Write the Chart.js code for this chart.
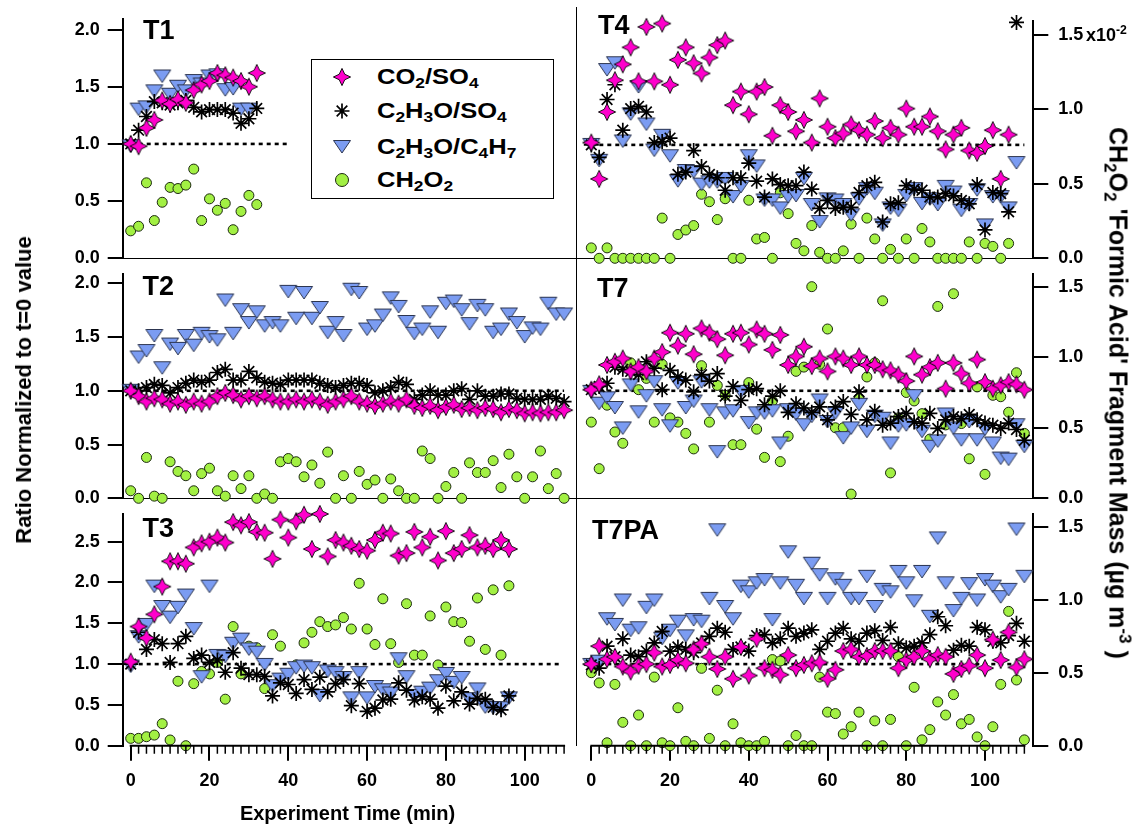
<!DOCTYPE html>
<html>
<head>
<meta charset="utf-8">
<title>Ratio normalized to t=0</title>
<script src="https://cdn.jsdelivr.net/npm/chart.js@4.4.1/dist/chart.umd.min.js"></script>
<style>
  html, body { margin: 0; padding: 0; background: #fff; }
  #page { position: relative; width: 1138px; height: 824px; overflow: hidden;
    font-family: 'Liberation Sans', Arial, Helvetica, sans-serif; font-weight: bold; color: #000; }
  #page canvas.panel { position: absolute; left: 0; top: 0; }
  .txt { position: absolute; white-space: nowrap; line-height: 1; }
  .txt sub, .txt sup, .entry sub { font-size: 0.68em; line-height: 0; }
  .txt sub, .entry sub { vertical-align: -0.28em; }
  .txt sup { vertical-align: 0.6em; }
  .panelName { font-size: 27px; }
  .rot { transform: translate(-50%, -50%) rotate(-90deg); }
  .rotR { transform: translate(-50%, -50%) rotate(90deg); }
  #divider { position: absolute; left: 576px; top: 7px; width: 1px; height: 739px; background: #000; }
  #legend { position: absolute; left: 311px; top: 59px; width: 241px; height: 138px; border: 1px solid #000; background: #fff; }
  #legend canvas { position: absolute; left: 18px; }
  #legend .entry { position: absolute; left: 65px; font-size: 22px; line-height: 1; white-space: nowrap;
    transform: scaleX(1.16); transform-origin: left center; }
</style>
</head>
<body>
<div id="page">
  <canvas id="t1" class="panel" width="1138" height="824"></canvas>
  <canvas id="t4" class="panel" width="1138" height="824"></canvas>
  <canvas id="t2" class="panel" width="1138" height="824"></canvas>
  <canvas id="t7" class="panel" width="1138" height="824"></canvas>
  <canvas id="t3" class="panel" width="1138" height="824"></canvas>
  <canvas id="t7pa" class="panel" width="1138" height="824"></canvas>
  <div id="divider"></div>

  <div class="txt panelName" style="left:143px; top:16.5px;">T1</div>
  <div class="txt panelName" style="left:598px; top:12px;">T4</div>
  <div class="txt panelName" style="left:142.5px; top:273px;">T2</div>
  <div class="txt panelName" style="left:597px; top:275px;">T7</div>
  <div class="txt panelName" style="left:142.5px; top:515px;">T3</div>
  <div class="txt panelName" style="left:592px; top:517px;">T7PA</div>

  <div class="txt" style="left:1086px; top:26px; font-size:18px;">x10<sup>-2</sup></div>

  <div class="txt rot" style="left:23.5px; top:390px; font-size:22px;">Ratio Normalized to t=0 value</div>
  <div class="txt rotR" style="left:1117.5px; top:393px; font-size:25px;">CH<sub>2</sub>O<sub>2</sub> 'Formic Acid' Fragment Mass (µg m<sup>-3</sup> )</div>
  <div class="txt" style="left:347.5px; top:813px; font-size:20px; transform: translate(-50%, -50%);">Experiment Time (min)</div>

  <div id="legend">
    <canvas id="lg0" width="24" height="24" style="top:5px;"></canvas>
    <canvas id="lg1" width="24" height="24" style="top:39px;"></canvas>
    <canvas id="lg2" width="24" height="24" style="top:75px;"></canvas>
    <canvas id="lg3" width="24" height="24" style="top:108px;"></canvas>
    <div class="entry" style="top:6px;">CO<sub>2</sub>/SO<sub>4</sub></div>
    <div class="entry" style="top:39.5px;">C<sub>2</sub>H<sub>3</sub>O/SO<sub>4</sub></div>
    <div class="entry" style="top:75.5px;">C<sub>2</sub>H<sub>3</sub>O/C<sub>4</sub>H<sub>7</sub></div>
    <div class="entry" style="top:108.5px;">CH<sub>2</sub>O<sub>2</sub></div>
  </div>
</div>

<script>
const FONT = "'Liberation Sans', Arial, Helvetica, sans-serif";

// sampling times (min), every run uses the same 2-minute grid
const minutes = [0, 2, 4, 6, 8, 10, 12, 14, 16, 18, 20, 22, 24, 26, 28, 30, 32, 34, 36, 38,
  40, 42, 44, 46, 48, 50, 52, 54, 56, 58, 60, 62, 64, 66, 68, 70, 72, 74, 76, 78,
  80, 82, 84, 86, 88, 90, 92, 94, 96, 98, 100, 102, 104, 106, 108, 110];

// T1 (left axis units for everything)
const t1Co2 = [1.00, 0.98, 1.14, 1.21, 1.38, 1.35, 1.39, 1.36, 1.47, 1.52, 1.55, 1.62, 1.60, 1.58, 1.55, 1.50, 1.62];
const t1Acet = [1.00, 1.12, 1.24, 1.37, 1.36, 1.34, 1.36, 1.38, 1.32, 1.28, 1.30, 1.30, 1.30, 1.27, 1.18, 1.22, 1.31];
const t1Tri = [0.98, 1.30, 1.32, 1.46, 1.59, 1.43, 1.50, 1.46, 1.55, 1.52, 1.59, 1.60, 1.47, 1.48, 1.30, 1.30];
const t1Formic = [0.24, 0.28, 0.66, 0.33, 0.49, 0.62, 0.61, 0.64, 0.78, 0.33, 0.52, 0.42, 0.48, 0.25, 0.41, 0.55, 0.47];

// T2
const t2Co2 = [1.00, 0.95, 0.90, 0.93, 0.92, 0.88, 0.90, 0.87, 0.90, 0.88, 0.90, 0.95, 0.98, 0.96, 0.92, 0.95, 0.93, 0.95, 0.92, 0.90,
  0.90, 0.92, 0.90, 0.92, 0.90, 0.87, 0.90, 0.92, 0.95, 0.90, 0.88, 0.86, 0.88, 0.90, 0.88, 0.92, 0.86, 0.84, 0.86, 0.82,
  0.85, 0.87, 0.83, 0.84, 0.82, 0.84, 0.83, 0.80, 0.83, 0.82, 0.79, 0.80, 0.79, 0.80, 0.80, 0.82];
const t2Acet = [1.00, 1.00, 1.03, 1.06, 1.05, 0.98, 1.03, 1.07, 1.10, 1.08, 1.10, 1.17, 1.20, 1.10, 1.10, 1.18, 1.12, 1.08, 1.07, 1.06,
  1.10, 1.10, 1.10, 1.10, 1.07, 1.05, 1.03, 1.05, 1.07, 1.07, 1.05, 0.98, 1.00, 1.03, 1.08, 1.06, 0.92, 0.96, 1.00, 0.96,
  0.96, 1.00, 1.02, 0.92, 1.00, 0.95, 0.95, 0.97, 0.97, 0.93, 0.92, 0.92, 0.92, 0.95, 0.93, 0.90];
const t2Tri = [1.00, 1.31, 1.37, 1.51, 1.21, 1.43, 1.39, 1.51, 1.42, 1.53, 1.50, 1.47, 1.84, 1.53, 1.75, 1.63, 1.73, 1.60, 1.63, 1.60,
  1.92, 1.67, 1.91, 1.67, 1.77, 1.54, 1.63, 1.51, 1.94, 1.91, 1.57, 1.60, 1.70, 1.86, 1.78, 1.64, 1.53, 1.57, 1.73, 1.54,
  1.81, 1.83, 1.75, 1.62, 1.79, 1.75, 1.54, 1.57, 1.71, 1.63, 1.50, 1.58, 1.57, 1.81, 1.71, 1.71];
const t2Formic = [0.07, 0.00, 0.38, 0.02, 0.00, 0.34, 0.25, 0.21, 0.07, 0.23, 0.28, 0.07, 0.02, 0.21, 0.09, 0.21, 0.00, 0.04, 0.00, 0.34,
  0.37, 0.34, 0.20, 0.31, 0.14, 0.43, 0.00, 0.21, 0.00, 0.25, 0.13, 0.17, 0.00, 0.18, 0.07, 0.00, 0.00, 0.44, 0.37, 0.00,
  0.11, 0.24, 0.00, 0.33, 0.24, 0.24, 0.35, 0.10, 0.41, 0.20, 0.00, 0.20, 0.44, 0.09, 0.23, 0.00];

// T3
const t3Co2 = [1.03, 1.46, 1.32, 1.61, 1.95, 2.26, 2.26, 2.23, 2.43, 2.48, 2.50, 2.55, 2.49, 2.74, 2.70, 2.74, 2.62, 2.61, 2.29, 2.77,
  2.55, 2.75, 2.83, 2.41, 2.84, 2.32, 2.52, 2.49, 2.45, 2.41, 2.39, 2.52, 2.61, 2.60, 2.33, 2.36, 2.62, 2.43, 2.56, 2.27,
  2.63, 2.36, 2.41, 2.58, 2.43, 2.45, 2.41, 2.52, 2.41];
const t3Acet = [1.00, 1.39, 1.18, 1.30, 1.25, 1.02, 1.25, 1.34, 1.07, 1.11, 1.02, 1.05, 0.90, 1.14, 0.95, 0.87, 0.87, 0.85, 0.61, 0.77,
  0.75, 0.64, 0.81, 0.69, 0.84, 0.66, 0.76, 0.81, 0.49, 0.76, 0.42, 0.46, 0.56, 0.57, 0.77, 0.68, 0.56, 0.60, 0.57, 0.46,
  0.73, 0.55, 0.66, 0.51, 0.58, 0.57, 0.47, 0.44, 0.61];
const t3Tri = [0.97, 1.33, 1.48, 1.95, 1.70, 1.57, 1.69, 1.84, 1.43, 0.84, 1.95, 1.10, 1.09, 1.25, 1.30, 1.18, 1.14, 0.99, 0.73, 0.81,
  0.87, 0.95, 0.97, 0.95, 0.61, 0.91, 0.89, 0.83, 0.58, 0.89, 0.58, 0.72, 0.68, 0.64, 1.06, 0.84, 0.61, 0.65, 0.70, 0.79,
  0.88, 0.77, 0.83, 0.57, 0.69, 0.47, 0.46, 0.46, 0.58];
const t3Formic = [0.09, 0.09, 0.11, 0.13, 0.27, 0.07, 0.79, 0.00, 0.76, 0.91, 0.88, 1.02, 0.57, 1.46, 0.88, 1.22, 1.20, 0.70, 1.36, 1.22,
  null, 0.99, 1.26, 1.39, 1.52, 1.46, 1.48, 1.57, 1.43, 1.99, 1.43, 1.24, 1.80, 1.25, 1.02, 1.74, 1.11, 1.11, 1.59, 0.99,
  1.70, 1.52, 1.51, 1.28, 1.81, 1.18, 1.91, 1.11, 1.96];

// T4 (formic in right-axis units, x10^-2)
const t4Co2 = [1.02, 0.70, 1.29, 1.57, 1.71, 1.86, 1.56, 2.04, 1.56, 2.07, 1.53, 1.75, 1.86, 1.72, 1.63, 1.77, 1.88, 1.92, 1.35, 1.47,
  1.27, 1.47, 1.51, 1.08, 1.35, 1.29, 1.12, 1.22, 1.02, 1.41, 1.16, 1.06, 1.10, 1.18, 1.13, 1.09, 1.21, 1.06, 1.15, 1.09,
  1.32, 1.16, 1.16, 1.25, 1.12, 0.96, 1.09, 1.15, 0.95, 0.93, 0.99, 1.13, 0.70, 1.09];
const t4Acet = [1.00, 0.89, 1.40, 1.53, 1.13, 1.32, 1.34, 1.29, 1.02, 1.03, 1.06, 0.74, 0.76, 0.95, 0.81, 0.74, 0.71, 0.60, 0.71, 0.71,
  0.84, 0.68, 0.54, 0.70, 0.65, 0.64, 0.64, 0.76, 0.61, 0.44, 0.51, 0.44, 0.45, 0.45, 0.58, 0.64, 0.67, 0.32, 0.48, 0.49,
  0.64, 0.61, 0.60, 0.54, 0.54, 0.57, 0.55, 0.51, 0.48, 0.65, 0.25, 0.58, 0.57, 0.41, 2.08];
const t4Tri = [1.00, 0.86, 1.66, 1.72, 1.03, 1.27, 1.51, 1.18, 0.95, 1.08, 0.90, 0.68, 0.77, 0.76, 0.65, 0.67, 0.67, 0.70, 0.54, 0.63,
  0.90, 0.81, 0.51, 0.51, 0.44, 0.54, 0.55, 0.70, 0.47, 0.32, 0.52, 0.51, 0.47, 0.38, 0.52, 0.61, 0.57, 0.29, 0.44, 0.42,
  0.55, 0.61, 0.48, 0.52, 0.47, 0.63, 0.58, 0.42, 0.47, 0.60, 0.29, 0.54, 0.54, 0.44, 0.84];
const t4Formic = [0.07, 0.00, 0.07, 0.00, 0.00, 0.00, 0.00, 0.00, 0.00, 0.27, 0.00, 0.16, 0.19, 0.22, 0.43, 0.38, 0.26, 0.40, 0.00, 0.00,
  0.39, 0.13, 0.14, 0.00, 0.44, 0.30, 0.10, 0.05, 0.22, 0.04, 0.00, 0.00, 0.05, 0.23, 0.00, 0.27, 0.13, 0.00, 0.06, 0.00,
  0.13, 0.00, 0.20, 0.11, 0.00, 0.00, 0.00, 0.00, 0.11, 0.00, 0.10, 0.08, 0.00, 0.10];

// T7
const t7Co2 = [1.01, 1.06, 1.24, 1.27, 1.30, 1.18, 1.22, 1.18, 1.30, 1.36, 1.54, 1.42, 1.53, 1.34, 1.58, 1.54, 1.48, 1.33, 1.53, 1.54,
  1.43, 1.57, 1.53, 1.38, 1.52, 1.24, 1.32, 1.41, 1.23, 1.30, 1.18, 1.32, 1.30, 1.24, 1.32, 1.24, 1.24, 1.20, 1.19, 1.15,
  1.09, 1.32, 1.15, 1.22, 1.26, 1.02, 1.26, 1.16, 1.07, 1.29, 1.08, 1.02, 1.05, 1.08, 1.06, 1.01];
const t7Acet = [1.01, 1.04, 1.07, 1.22, 1.20, 1.18, 1.15, 1.27, 1.21, 1.01, 1.19, 1.13, 1.10, 0.99, 1.15, 1.09, 1.16, 0.95, 1.04, 0.91,
  1.01, 1.02, 0.87, 0.95, 1.00, 0.80, 0.88, 0.84, 0.80, 0.85, 0.73, 0.85, 0.90, 0.78, 0.99, 0.73, 0.81, 0.68, 0.70, 0.76,
  0.79, 0.71, 0.70, 0.79, 0.65, 0.73, 0.76, 0.74, 0.78, 0.73, 0.70, 0.68, 0.65, 0.70, 0.64, 0.54];
const t7Tri = [0.99, 0.88, 0.93, 0.84, 0.65, 1.05, 0.80, 0.95, 1.08, 0.82, 0.67, 1.07, 0.84, 0.90, 1.08, 0.82, 0.43, 0.79, 0.81, 0.99,
  0.70, 0.79, 0.79, 0.81, 0.51, 0.82, 0.78, 0.68, 0.76, 0.91, 0.71, 0.79, 0.56, 0.65, 0.87, 0.62, 0.76, 0.74, 0.51, 0.67,
  0.68, 0.95, 0.62, 0.48, 0.53, 0.78, 0.65, 0.54, 0.71, 0.54, 0.64, 0.51, 0.37, 0.36, 0.68, 0.48];
const t7Formic = [0.54, 0.21, 0.66, 0.47, 0.39, 0.96, 0.77, 0.85, 0.54, 0.95, 0.57, 0.54, 0.46, 0.35, 0.94, 0.54, 0.80, 0.73, 0.38, 0.38,
  0.82, 0.49, 0.29, 0.69, 0.26, 0.44, 0.90, 0.93, 1.50, 0.95, 1.20, 0.50, 0.50, 0.03, 0.71, 0.86, 0.96, 1.40, 0.18, 0.57,
  0.75, 0.69, 0.60, 0.42, 1.36, 0.52, 1.45, 0.53, 0.28, 0.79, 0.17, 0.73, 0.72, 0.61, 0.89, 0.46];

// T7PA
const t7paCo2 = [1.00, 1.22, 1.06, 1.09, 0.97, 0.91, 0.98, 1.00, 1.14, 0.97, 0.99, 1.05, 1.01, 1.18, 1.25, 1.09, 0.94, 1.09, 0.82, 1.21,
  0.86, 1.31, 0.95, 0.93, 0.87, 1.11, 0.95, 0.99, 1.01, 1.02, 0.82, 0.93, 1.16, 1.18, 1.09, 1.10, 1.16, 1.16, 1.16, 0.95,
  1.05, 1.09, 1.16, 1.06, 1.11, 1.09, 0.88, 0.94, 0.98, 1.11, 0.95, 1.30, 1.05, 1.39, 0.96, 1.06];
const t7paAcet = [0.99, 0.95, 1.22, 1.09, 1.31, 1.11, 1.09, 1.16, 1.26, 1.40, 1.16, 1.21, 1.18, 1.14, 1.26, 1.34, 1.44, 1.39, 1.18, 1.21,
  1.16, 1.35, 1.36, 1.26, 1.31, 1.44, 1.34, 1.38, 1.42, 1.18, 1.28, 1.38, 1.44, 1.31, 1.28, 1.38, 1.41, 1.29, 1.45, 1.25,
  1.20, 1.22, 1.26, 1.36, 1.58, 1.47, 1.17, 1.23, 1.22, 1.45, 1.42, 1.28, 1.26, 1.35, 1.50, 1.28];
const t7paTri = [0.99, 1.03, 1.55, 1.48, 1.78, 1.41, 1.44, 1.69, 1.78, 1.31, 1.41, 1.52, 1.34, 1.54, 1.52, 1.80, 2.64, 1.70, 1.55, 1.95,
  1.88, 1.99, 2.03, 1.54, 1.99, 2.37, 1.96, 1.80, 2.23, 2.09, 1.80, 2.04, 1.96, 1.80, 1.80, 2.07, 1.70, 1.91, 1.88, 2.13,
  1.99, 1.77, 2.13, 1.58, 2.54, 1.99, 1.65, 1.80, 1.98, 1.78, 2.03, 1.95, 1.82, 1.91, 2.65, 2.07];
const t7paFormic = [0.50, 0.43, 0.02, 0.42, 0.16, 0.00, 0.21, 0.00, 0.47, 0.02, 0.00, 0.26, 0.03, 0.00, 0.53, 0.05, 0.38, 0.00, 0.15, 0.02,
  0.00, 0.00, 0.03, 0.59, 0.58, 0.00, 0.07, 0.00, 0.00, 0.47, 0.23, 0.22, 0.08, 0.13, 0.23, 0.00, 0.17, 0.00, 0.18, 0.61,
  0.00, 0.40, 0.04, 0.11, 0.30, 0.21, 0.35, 0.15, 0.18, 0.06, 0.00, 0.13, 0.42, 0.92, 0.45, 0.04];

// dotted "ratio = 1" reference
const refLevel = 1.0;
const refStart = 0;

// page geometry
const LEFT_COL = { plotLeft: 122.7, plotRight: 576.7, xMin: -2.03, xMax: 113.2 };
const RIGHT_COL = { plotLeft: 576.7, plotRight: 1033.3, xMin: -3.71, xMax: 112.27 };
const ROWS = [
  { top: 18.5, bottom: 258.3, ratioMax: 2.094, formicMax: 1.595 },
  { top: 273.7, bottom: 498.3, ratioMax: 2.089, formicMax: 1.592 },
  { top: 513.7, bottom: 745.7, ratioMax: 2.843, formicMax: 1.589 }
];

function pts(times, vals) {
  const out = [];
  vals.forEach((v, i) => { if (v !== null) out.push({ x: times[i], y: v }); });
  return out;
}

function makeStarMarker(size) {
  const c = document.createElement('canvas');
  c.width = size; c.height = size;
  const g = c.getContext('2d');
  const m = size / 2;
  g.beginPath();
  for (let i = 0; i < 8; i++) {
    const a = -Math.PI / 2 + i * Math.PI / 4;
    const r = i % 2 === 0 ? 8.6 : 3.9;
    g.lineTo(m + r * Math.cos(a), m + r * Math.sin(a));
  }
  g.closePath();
  g.fillStyle = '#ff00cc';
  g.fill();
  g.lineWidth = 0.9;
  g.strokeStyle = '#000';
  g.stroke();
  return c;
}

function makeTriangleMarker() {
  const c = document.createElement('canvas');
  c.width = 20; c.height = 16;
  const g = c.getContext('2d');
  g.beginPath();
  g.moveTo(1.5, 1.5);
  g.lineTo(18.5, 1.5);
  g.lineTo(10, 14);
  g.closePath();
  g.fillStyle = '#7b9cf2';
  g.fill();
  g.lineWidth = 1;
  g.strokeStyle = '#2c3550';
  g.stroke();
  return c;
}

const starMarker = makeStarMarker(20);
const triMarker = makeTriangleMarker();

// minor ticks every 2 min and the axis line over 0..110 on the bottom row
const xAxisDecor = {
  id: 'xAxisDecor',
  afterDraw(chart, args, opts) {
    if (!opts.enabled) return;
    const s = chart.scales.x;
    const ctx = chart.ctx;
    const y = s.top;
    ctx.save();
    ctx.strokeStyle = '#000';
    ctx.lineWidth = 2;
    ctx.beginPath();
    ctx.moveTo(s.getPixelForValue(0) - 1, y);
    ctx.lineTo(s.getPixelForValue(110) + 1, y);
    ctx.stroke();
    ctx.lineWidth = 1.5;
    ctx.beginPath();
    for (let m = 2; m <= 110; m += 2) {
      if (m % 20 === 0) continue;
      const px = s.getPixelForValue(m);
      ctx.moveTo(px, y);
      ctx.lineTo(px, y + 8);
    }
    ctx.stroke();
    ctx.restore();
  }
};

const tickFont = { family: FONT, size: 18, weight: 'bold' };

function buildPanel(p) {
  const left = p.col === LEFT_COL;
  const row = ROWS[p.row];
  const bottomRow = p.row === ROWS.length - 1;
  const axisW = 70;
  const xAxisH = bottomRow ? 60 : 0;

  const xScale = {
    type: 'linear', position: 'bottom', min: p.col.xMin, max: p.col.xMax,
    afterFit: s => { s.height = xAxisH; }
  };
  if (bottomRow) {
    Object.assign(xScale, {
      border: { display: false },
      grid: { display: true, drawOnChartArea: false, drawTicks: true, tickLength: 15, lineWidth: 2, tickWidth: 2, tickColor: '#000', color: '#000' },
      ticks: { stepSize: 20, includeBounds: false, autoSkip: false, maxRotation: 0, padding: 10, color: '#000', font: tickFont }
    });
  } else {
    Object.assign(xScale, {
      border: { display: true, color: '#000', width: 1 },
      grid: { display: false },
      ticks: { display: false }
    });
  }

  const axisGrid = { display: true, drawOnChartArea: false, drawTicks: true, tickLength: 15, lineWidth: 2, tickWidth: 2, tickColor: '#000', color: '#000' };
  const scales = {
    x: xScale,
    y: {
      type: 'linear', position: 'left', min: 0, max: row.ratioMax, display: left,
      border: { display: true, color: '#000', width: 2 },
      grid: axisGrid,
      ticks: { stepSize: 0.5, includeBounds: false, padding: 8, color: '#000', font: tickFont, callback: v => v.toFixed(1) },
      afterFit: s => { s.width = left ? axisW : 0; }
    }
  };
  if (!left) {
    scales.y2 = {
      type: 'linear', position: 'right', min: 0, max: row.formicMax,
      border: { display: true, color: '#000', width: 2 },
      grid: axisGrid,
      ticks: { stepSize: 0.5, includeBounds: false, padding: 10, color: '#000', font: tickFont, callback: v => v.toFixed(1) },
      afterFit: s => { s.width = axisW; }
    };
  }

  const padding = {
    top: row.top,
    bottom: 824 - row.bottom - xAxisH,
    left: left ? p.col.plotLeft - axisW : p.col.plotLeft,
    right: left ? 1138 - p.col.plotRight : 1138 - p.col.plotRight - axisW
  };

  const datasets = [
    { label: 'CO2/SO4', data: pts(p.times, p.co2), pointStyle: starMarker, pointRadius: 8, yAxisID: 'y', clip: false },
    { label: 'C2H3O/SO4', data: pts(p.times, p.acet), pointStyle: 'star', pointRadius: 7.5, borderWidth: 1.7,
      borderColor: '#000', backgroundColor: '#000', yAxisID: 'y', clip: false },
    { label: 'C2H3O/C4H7', data: pts(p.times, p.tri), pointStyle: triMarker, pointRadius: 8, yAxisID: 'y', clip: false },
    { label: 'CH2O2', data: pts(p.times, p.formic), pointStyle: 'circle', pointRadius: 5, borderWidth: 1,
      backgroundColor: '#a2f043', borderColor: '#1c2810', yAxisID: left ? 'y' : 'y2', clip: false },
    { label: 'ref', data: [{ x: refStart, y: refLevel }, { x: p.refEnd, y: refLevel }], showLine: true, pointRadius: 0,
      borderColor: '#000', borderWidth: 2.6, borderDash: [4, 4], yAxisID: 'y' }
  ];

  return new Chart(document.getElementById(p.id), {
    type: 'scatter',
    data: { datasets },
    options: {
      responsive: false,
      animation: false,
      events: [],
      layout: { padding, autoPadding: false },
      plugins: { legend: { display: false }, tooltip: { enabled: false }, xAxisDecor: { enabled: bottomRow } },
      scales
    },
    plugins: [xAxisDecor]
  });
}

const panels = [
  { id: 't1', col: LEFT_COL, row: 0, times: minutes, co2: t1Co2, acet: t1Acet, tri: t1Tri, formic: t1Formic, refEnd: 40 },
  { id: 't4', col: RIGHT_COL, row: 0, times: minutes, co2: t4Co2, acet: t4Acet, tri: t4Tri, formic: t4Formic, refEnd: 110 },
  { id: 't2', col: LEFT_COL, row: 1, times: minutes, co2: t2Co2, acet: t2Acet, tri: t2Tri, formic: t2Formic, refEnd: 110 },
  { id: 't7', col: RIGHT_COL, row: 1, times: minutes, co2: t7Co2, acet: t7Acet, tri: t7Tri, formic: t7Formic, refEnd: 110 },
  { id: 't3', col: LEFT_COL, row: 2, times: minutes, co2: t3Co2, acet: t3Acet, tri: t3Tri, formic: t3Formic, refEnd: 109 },
  { id: 't7pa', col: RIGHT_COL, row: 2, times: minutes, co2: t7paCo2, acet: t7paAcet, tri: t7paTri, formic: t7paFormic, refEnd: 110 }
];
panels.forEach(buildPanel);

// legend symbols
function legendSymbol(id, draw) {
  const g = document.getElementById(id).getContext('2d');
  draw(g);
}
legendSymbol('lg0', g => g.drawImage(starMarker, 2, 2));
legendSymbol('lg1', g => {
  g.strokeStyle = '#000';
  g.lineWidth = 1.7;
  g.beginPath();
  for (let i = 0; i < 4; i++) {
    const a = i * Math.PI / 4;
    g.moveTo(12 - 7.5 * Math.cos(a), 12 - 7.5 * Math.sin(a));
    g.lineTo(12 + 7.5 * Math.cos(a), 12 + 7.5 * Math.sin(a));
  }
  g.stroke();
});
legendSymbol('lg2', g => g.drawImage(triMarker, 2, 4));
legendSymbol('lg3', g => {
  g.beginPath();
  g.arc(12, 12, 6.5, 0, Math.PI * 2);
  g.fillStyle = '#a2f043';
  g.fill();
  g.lineWidth = 1;
  g.strokeStyle = '#1c2810';
  g.stroke();
});
</script>
</body>
</html>
